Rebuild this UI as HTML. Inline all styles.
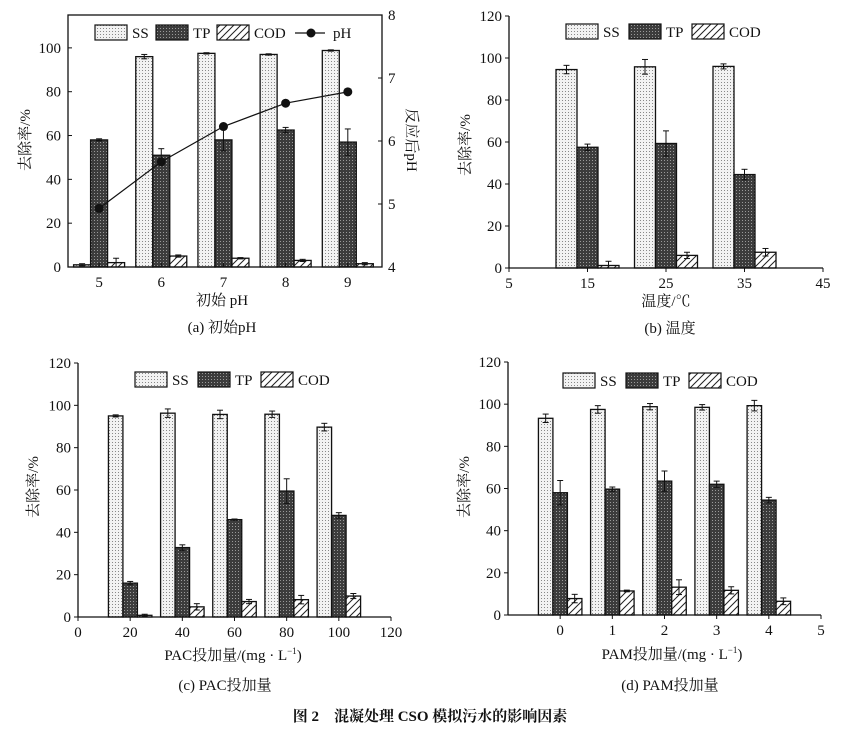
<!DOCTYPE html>
<html><head><meta charset="utf-8"><style>
html,body{margin:0;padding:0;background:#fff;}
svg{display:block;font-family:"Liberation Serif","Noto Serif CJK SC",serif;}
</style></head><body>
<svg id="s" width="862" height="730" viewBox="0 0 862 730" xmlns="http://www.w3.org/2000/svg">
<defs>
<pattern id="pSS" width="3" height="3" patternUnits="userSpaceOnUse"><rect width="3" height="3" fill="#f2f2f2"/><rect x="1" y="1" width="1" height="1" fill="#888"/></pattern>
<pattern id="pTP" width="3" height="3" patternUnits="userSpaceOnUse"><rect width="3" height="3" fill="#3c3c3c"/><rect x="1" y="1" width="1" height="1" fill="#9a9a9a"/></pattern>
<pattern id="pCOD" width="7" height="7" patternUnits="userSpaceOnUse"><rect width="7" height="7" fill="#fff"/><path d="M-1,8 L8,-1 M-1,1 L1,-1 M6,8 L8,6" stroke="#222" stroke-width="1"/></pattern>
</defs>
</svg>
<script>
const s=document.getElementById('s');let h='';
function t(x,y,str,o={}){h+=`<text x="${x}" y="${y}" font-size="${o.fs||15}" text-anchor="${o.a||'middle'}" ${o.tr?`transform="${o.tr}"`:''} ${o.w?'font-weight="bold"':''} fill="#111">${str}</text>`;}
function L(x1,y1,x2,y2,w){h+=`<line x1="${x1}" y1="${y1}" x2="${x2}" y2="${y2}" stroke="#111" stroke-width="${w||1}"/>`;}
function panel(p){
 const Y=v=>p.y0-(v-p.vmin)*(p.y0-p.ytop)/(p.vmax-p.vmin);
 const X=v=>p.xl+(v-p.xmin)*(p.xr-p.xl)/(p.xmax-p.xmin);
 const ser=[['SS','pSS'],['TP','pTP'],['COD','pCOD']];
 p.cats.forEach((c,i)=>{const cx=X(c);ser.forEach((sr,k)=>{const v=p.d[k][i],e=p.e[k][i];const x=cx+(k-1.5)*p.bw;const y=Y(v);
  h+=`<rect x="${x}" y="${y}" width="${p.bw}" height="${p.y0-y}" fill="url(#${sr[1]})" stroke="#111" stroke-width="1.3"/>`;
  const ex=x+p.bw/2;L(ex,Y(v+e),ex,Y(Math.max(0,v-e)));L(ex-3,Y(v+e),ex+3,Y(v+e));L(ex-3,Y(Math.max(0,v-e)),ex+3,Y(Math.max(0,v-e)));});});
 if(p.box){h+=`<rect x="${p.xl}" y="${p.ytop}" width="${p.xr-p.xl}" height="${p.y0-p.ytop}" fill="none" stroke="#111" stroke-width="1.3"/>`;}
 else{L(p.xl,p.y0,p.xr,p.y0,1.3);L(p.xl,p.y0,p.xl,p.ytop,1.3);}
 p.yt.forEach(v=>{const y=Y(v);if(p.box)L(p.xl,y,p.xl+4,y);else L(p.xl-4,y,p.xl,y);t(p.xl-7,y+5,v,{a:'end'});});
 p.xt.forEach(v=>{const x=X(v);if(p.box)L(x,p.y0,x,p.y0-4);else L(x,p.y0,x,p.y0+4);t(x,p.y0+20,v);});
}
panel({xl:68,xr:382,y0:267,ytop:15,vmin:0,vmax:115,xmin:4.5,xmax:9.55,box:true,bw:17,cats:[5,6,7,8,9],
 d:[[1,96,97.5,97,98.8],[58,51,58,62.5,57],[2,5,4,3,1.5]],e:[[0.5,1,0.3,0.3,0.3],[0.5,3,5,1.2,6],[2,0.5,0.3,0.5,0.5]],
 yt:[0,20,40,60,80,100],xt:[5,6,7,8,9]});
for(let v=4;v<=8;v++){const y=267-(v-4)*63;L(378,y,382,y);t(388,y+5,v,{a:'start'});}
(function(){const X=v=>68+(v-4.5)*314/5.05;const pts=[[5,4.93],[6,5.67],[7,6.23],[8,6.6],[9,6.78]].map(p=>[X(p[0]),267-(p[1]-4)*63]);
 h+=`<polyline points="${pts.map(p=>p.join(',')).join(' ')}" fill="none" stroke="#111" stroke-width="1.2"/>`;pts.forEach(p=>h+=`<circle cx="${p[0]}" cy="${p[1]}" r="4.5" fill="#111"/>`);})();
panel({xl:509,xr:823,y0:268,ytop:16,vmin:0,vmax:120,xmin:5,xmax:45,bw:21,cats:[15,25,35],
 d:[[94.5,95.8,96],[57.5,59.3,44.5],[1.2,6,7.5]],e:[[2,3.5,1.2],[1.5,6,2.5],[2,1.5,1.8]],
 yt:[0,20,40,60,80,100,120],xt:[5,15,25,35,45]});
panel({xl:78,xr:391,y0:617,ytop:363,vmin:0,vmax:120,xmin:0,xmax:120,bw:14.5,cats:[20,40,60,80,100],
 d:[[95,96.3,95.7,95.8,89.7],[16,32.8,46,59.5,48],[0.8,4.8,7.3,8.2,9.9]],e:[[0.5,2,2,1.5,1.8],[0.8,1.3,0.3,5.8,1.3],[0.5,1.5,1,2,1.2]],
 yt:[0,20,40,60,80,100,120],xt:[0,20,40,60,80,100,120]});
panel({xl:508,xr:821,y0:615,ytop:362,vmin:0,vmax:120,xmin:-1,xmax:5,bw:14.5,cats:[0,1,2,3,4],
 d:[[93.3,97.5,98.8,98.5,99.3],[58,59.7,63.5,62,54.5],[7.8,11.4,13.2,11.7,6.5]],e:[[2,1.8,1.5,1.3,2.5],[5.8,1,4.8,1.5,1.3],[2,0.4,3.5,1.7,1.6]],
 yt:[0,20,40,60,80,100,120],xt:[0,1,2,3,4,5]});
function leg(x,y,gap){[['SS','pSS'],['TP','pTP'],['COD','pCOD']].forEach((s2,i)=>{const bx=x+i*gap;h+=`<rect x="${bx}" y="${y}" width="32" height="15" fill="url(#${s2[1]})" stroke="#111" stroke-width="1.2"/>`;t(bx+37,y+13,s2[0],{a:'start'});});}
leg(95,25,61);L(295,33,325,33,1.2);h+=`<circle cx="311" cy="33" r="4.5" fill="#111"/>`;t(333,38,'pH',{a:'start'});
leg(566,24,63);leg(135,372,63);leg(563,373,63);
t(222,305,'初始 pH');t(666,306,'温度/℃');t(233,660,'PAC投加量/(mg · L<tspan font-size="9" dy="-6">−1</tspan><tspan dy="6">)</tspan>');t(672,659,'PAM投加量/(mg · L<tspan font-size="9" dy="-6">−1</tspan><tspan dy="6">)</tspan>');
t(0,0,'去除率/%',{tr:'translate(30,140) rotate(-90)'});t(0,0,'去除率/%',{tr:'translate(470,145) rotate(-90)'});
t(0,0,'去除率/%',{tr:'translate(38,487) rotate(-90)'});t(0,0,'去除率/%',{tr:'translate(469,487) rotate(-90)'});
t(0,0,'反应后pH',{tr:'translate(407,140) rotate(90)'});
t(222,332,'(a) 初始pH');t(670,333,'(b) 温度');t(225,690,'(c) PAC投加量');t(670,690,'(d) PAM投加量');
t(430,721,'图 2　混凝处理 CSO 模拟污水的影响因素',{w:1,fs:15});
s.insertAdjacentHTML('beforeend',h);
</script>
</body></html>
